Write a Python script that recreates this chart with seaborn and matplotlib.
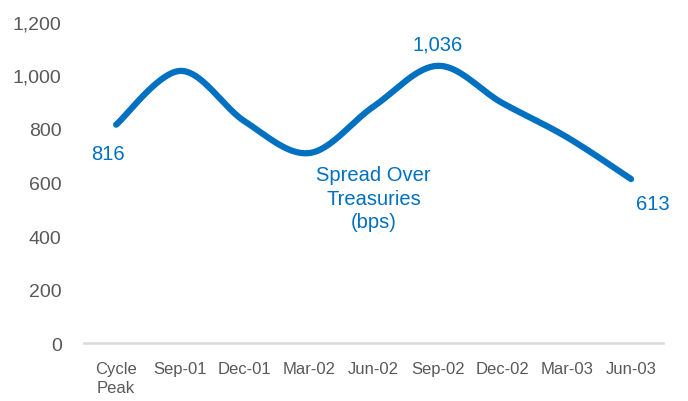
import numpy as np
import pandas as pd
import matplotlib
matplotlib.use("Agg")
import matplotlib.pyplot as plt
import seaborn as sns

categories = ["Cycle\nPeak", "Sep-01", "Dec-01", "Mar-02", "Jun-02", "Sep-02", "Dec-02", "Mar-03", "Jun-03"]
spread_bps = [816, 1017, 828, 710, 884, 1036, 897, 770, 613]
y_ticks = [0, 200, 400, 600, 800, 1000, 1200]
y_tick_labels = ["0", "200", "400", "600", "800", "1,000", "1,200"]

sns.set_theme(style="white")
plt.rcParams['font.family'] = ['Liberation Sans', 'DejaVu Sans']

BLUE = "#0070C0"
GRAY = "#595959"

# Excel-like smoothing (Catmull-Rom) through the data points
x = np.arange(len(spread_bps), dtype=float)
y = np.array(spread_bps, dtype=float)
px = np.concatenate([[x[0]], x, [x[-1]]])
py = np.concatenate([[y[0]], y, [y[-1]]])
xs, ys = [], []
t = np.linspace(0, 1, 40)
for i in range(1, len(px) - 2):
    p0x, p1x, p2x, p3x = px[i-1], px[i], px[i+1], px[i+2]
    p0y, p1y, p2y, p3y = py[i-1], py[i], py[i+1], py[i+2]
    c1x = p1x + (p2x - p0x) / 6; c1y = p1y + (p2y - p0y) / 6
    c2x = p2x - (p3x - p1x) / 6; c2y = p2y - (p3y - p1y) / 6
    bx = (1-t)**3*p1x + 3*(1-t)**2*t*c1x + 3*(1-t)*t**2*c2x + t**3*p2x
    by = (1-t)**3*p1y + 3*(1-t)**2*t*c1y + 3*(1-t)*t**2*c2y + t**3*p2y
    xs.extend(bx if i == 1 else bx[1:]); ys.extend(by if i == 1 else by[1:])
df = pd.DataFrame({"x": xs, "y": ys})

fig = plt.figure(figsize=(6.88, 4.02), dpi=100)
ax = fig.add_axes([0.122, 0.144, 0.842, 0.799])
sns.lineplot(data=df, x="x", y="y", ax=ax, color=BLUE, linewidth=4.5, sort=False,
             solid_capstyle="round", estimator=None)

ax.set_xlim(-0.5, len(categories) - 0.5)
ax.set_ylim(0, 1200)
ax.set_xticks(x)
ax.set_xticklabels(categories, fontsize=12, color=GRAY, linespacing=1.35)
ax.set_yticks(y_ticks)
ax.set_yticklabels(y_tick_labels, fontsize=14, color=GRAY)
ax.tick_params(axis="both", length=0)
ax.tick_params(axis="x", pad=13)
ax.tick_params(axis="y", pad=16)
ax.set_xlabel(""); ax.set_ylabel("")
for s in ["top", "right", "left"]:
    ax.spines[s].set_visible(False)
ax.spines["bottom"].set_color("#D9D9D9")
ax.spines["bottom"].set_linewidth(1.8)

ax.annotate("816", (x[0], y[0]), xytext=(-6, -14), textcoords="offset points",
            ha="center", va="top", fontsize=14.5, color=BLUE)
ax.annotate("1,036", (x[5], y[5]), xytext=(0, 9), textcoords="offset points",
            ha="center", va="bottom", fontsize=14.5, color=BLUE)
ax.annotate("613", (x[8], y[8]), xytext=(16, -11), textcoords="offset points",
            ha="center", va="top", fontsize=14.5, color=BLUE)
ax.text(4, 665, "Spread Over\nTreasuries\n(bps)", ha="center", va="top",
        fontsize=14.5, color=BLUE, linespacing=1.3)

fig.savefig("out.png", dpi=100)
